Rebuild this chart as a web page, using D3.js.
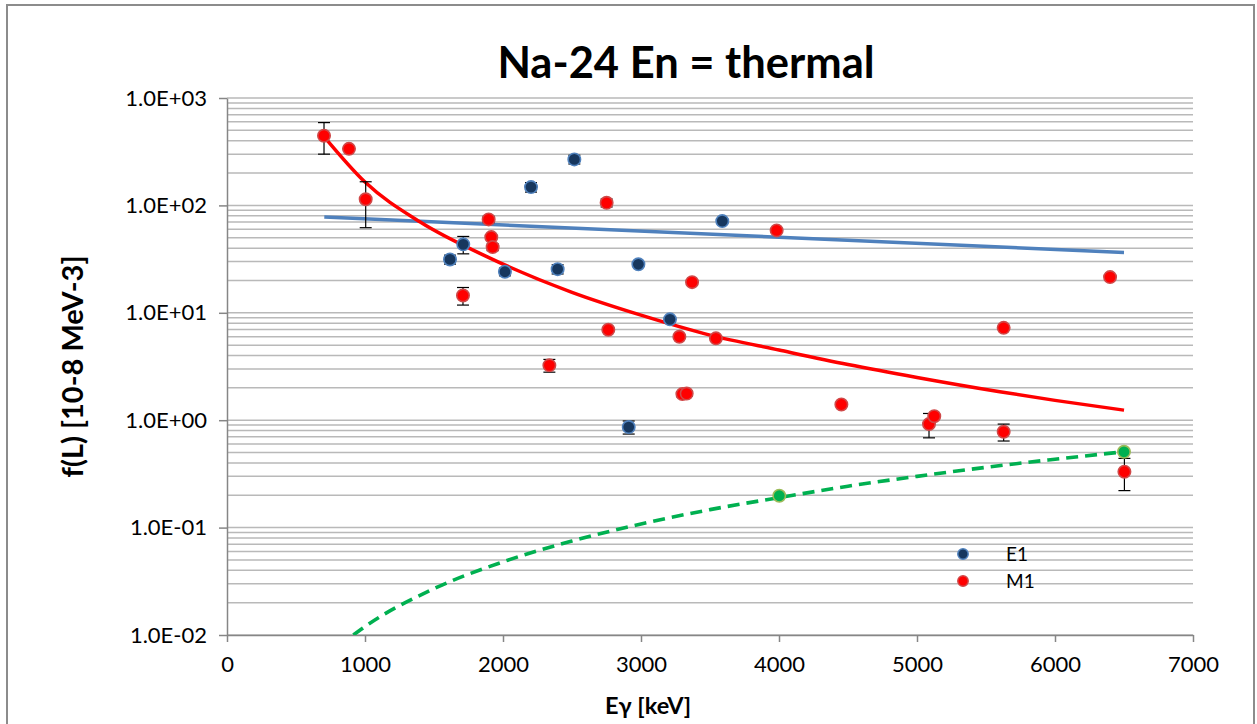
<!DOCTYPE html>
<html>
<head>
<meta charset="utf-8">
<script src="https://cdn.jsdelivr.net/npm/d3@7"></script>
<style>
	body { margin: 0; background: #fff; }
	text { font-family: Lato, "Open Sans", sans-serif; fill: #000; }
</style>
</head>
<body>
<div id="chart"></div>
<script>
// chart values
var e1X = [1616, 1712, 2014, 2203, 2396, 2517, 2911, 2981, 3210, 3589]
var e1Y = [31.4, 43.4, 24.1, 148, 25.5, 268, 0.863, 28.3, 8.69, 71.4]
var e1Err = [3, 8, 2, 15, 2.5, 25, 0.12, 1, 0.5, 3]

var m1X = [703, 884, 1005, 1710, 1896, 1915, 1925, 2336, 2751, 2763, 3278, 3300, 3331, 3370, 3543, 3983, 4452, 5087, 5125, 5628, 5628, 6399, 6503]
var m1Y = [445, 336, 114, 14.5, 74.1, 50.7, 40.9, 3.24, 105.7, 6.95, 5.98, 1.75, 1.77, 19.3, 5.78, 58.5, 1.40, 0.92, 1.09, 7.24, 0.78, 21.5, 0.331]
var m1Err = [145, 15, 52, 2.7, 5, 2, 3, 0.44, 9, 0.3, 0.2, 0.1, 0.1, 0.5, 0.2, 2, 0.05, 0.235, 0.03, 0.2, 0.14, 0.5, 0.11]

var extraX = [4002, 6500]
var extraY = [0.198, 0.508]

// trend lines
var e1TrendX = [705, 6500]
var e1TrendY = [77.8, 36.5]
var m1TrendX = [705, 1000, 1400, 1890, 2500, 3000, 3500, 4000, 4500, 5000, 5600, 6000, 6500]
var m1TrendY = [435, 165, 70, 33, 15.5, 9.5, 6.2, 4.5, 3.3, 2.5, 1.84, 1.53, 1.24]
var extraTrendX = [700, 1000, 1500, 2000, 2500, 3000, 3500, 4000, 4500, 5000, 5500, 6000, 6500]
var extraTrendY = [0.006, 0.012, 0.027, 0.048, 0.075, 0.108, 0.147, 0.19, 0.243, 0.30, 0.364, 0.433, 0.508]

var xTicks = [0, 1000, 2000, 3000, 4000, 5000, 6000, 7000]
var yTicks = [0.01, 0.1, 1, 10, 100, 1000]
var yTickLabels = ["1.0E-02", "1.0E-01", "1.0E+00", "1.0E+01", "1.0E+02", "1.0E+03"]
var legendNames = ["E1", "M1"]

var w = 1257
var h = 724

var svg = d3.select("#chart")
	.append("svg")
	.attr("width", w)
	.attr("height", h)

// outer frame
svg.append("rect")
	.attr("x", 7)
	.attr("y", 5)
	.attr("width", 1247)
	.attr("height", 730)
	.attr("fill", "none")
	.attr("stroke", "#8c8c8c")
	.attr("stroke-width", 2)

// plot area edges
var pL = 227, pR = 1193, pT = 98, pB = 635

var x = d3.scaleLinear().domain([0, 7000]).range([pL, pR])
var y = d3.scaleLog().domain([0.01, 1000]).range([pB, pT])

// gridlines, every minor step of the log axis
svg.append("g")
	.selectAll("line")
	.data(y.ticks())
	.enter()
	.append("line")
	.attr("x1", pL)
	.attr("x2", pR)
	.attr("y1", function(d) { return y(d) })
	.attr("y2", function(d) { return y(d) })
	.attr("stroke", "#b9b9b9")
	.attr("stroke-width", 1.5)

// axes
var yAxis = d3.axisLeft(y)
	.tickValues(yTicks)
	.tickFormat(function(d, i) { return yTickLabels[i] })
	.tickSize(8)
	.tickSizeOuter(0)
	.tickPadding(12)

var xAxis = d3.axisBottom(x)
	.tickValues(xTicks)
	.tickFormat(d3.format("d"))
	.tickSize(7)
	.tickSizeOuter(0)
	.tickPadding(14)

svg.append("g").attr("transform", "translate(" + pL + ",0)").call(yAxis)
svg.append("g").attr("transform", "translate(0," + pB + ")").call(xAxis)

svg.selectAll(".domain, .tick line")
	.attr("stroke", "#868686")
	.attr("stroke-width", 1.5)
svg.selectAll(".tick text")
	.attr("font-family", "Lato, sans-serif")
	.attr("font-size", 22)
	.attr("fill", "#000")

// trend lines
svg.append("clipPath").attr("id", "plot")
	.append("rect")
	.attr("x", pL)
	.attr("y", pT)
	.attr("width", pR - pL)
	.attr("height", pB - pT)

var line = d3.line()
	.x(function(d) { return x(d[0]) })
	.y(function(d) { return y(d[1]) })
	.curve(d3.curveMonotoneX)

var trendG = svg.append("g").attr("clip-path", "url(#plot)")

trendG.append("path")
	.attr("d", line(d3.zip(e1TrendX, e1TrendY)))
	.attr("fill", "none")
	.attr("stroke", "#4f81bd")
	.attr("stroke-width", 3.5)

trendG.append("path")
	.attr("d", line(d3.zip(m1TrendX, m1TrendY)))
	.attr("fill", "none")
	.attr("stroke", "#ff0000")
	.attr("stroke-width", 3.5)

trendG.append("path")
	.attr("d", line(d3.zip(extraTrendX, extraTrendY)))
	.attr("fill", "none")
	.attr("stroke", "#00b050")
	.attr("stroke-width", 3.6)
	.attr("stroke-dasharray", "12,7")

// error bars
function errorBars(xs, ys, es) {
	var g = svg.append("g").attr("stroke", "#000").attr("stroke-width", 1.2)
	var data = d3.zip(xs, ys, es)
	g.selectAll(".v").data(data).enter().append("line")
		.attr("x1", function(d) { return x(d[0]) })
		.attr("x2", function(d) { return x(d[0]) })
		.attr("y1", function(d) { return y(d[1] + d[2]) })
		.attr("y2", function(d) { return y(d[1] - d[2]) })
	g.selectAll(".t").data(data).enter().append("line")
		.attr("x1", function(d) { return x(d[0]) - 6 })
		.attr("x2", function(d) { return x(d[0]) + 6 })
		.attr("y1", function(d) { return y(d[1] + d[2]) })
		.attr("y2", function(d) { return y(d[1] + d[2]) })
	g.selectAll(".b").data(data).enter().append("line")
		.attr("x1", function(d) { return x(d[0]) - 6 })
		.attr("x2", function(d) { return x(d[0]) + 6 })
		.attr("y1", function(d) { return y(d[1] - d[2]) })
		.attr("y2", function(d) { return y(d[1] - d[2]) })
}
errorBars(e1X, e1Y, e1Err)
errorBars(m1X, m1Y, m1Err)

// markers
function dots(xs, ys, fill, edge) {
	svg.append("g")
		.selectAll("circle")
		.data(d3.zip(xs, ys))
		.enter()
		.append("circle")
		.attr("cx", function(d) { return x(d[0]) })
		.attr("cy", function(d) { return y(d[1]) })
		.attr("r", 6.2)
		.attr("fill", fill)
		.attr("stroke", edge)
		.attr("stroke-width", 1.6)
}
dots(e1X, e1Y, "#17375e", "#4f81bd")
dots(m1X, m1Y, "#ff0000", "#d04848")
dots(extraX, extraY, "#00b050", "#9bbb59")

// legend
var legendColors = [["#17375e", "#4f81bd"], ["#ff0000", "#d04848"]]
var legend = svg.append("g")
legendNames.forEach(function(name, i) {
	legend.append("circle")
		.attr("cx", 963)
		.attr("cy", 554 + i * 27)
		.attr("r", 5.2)
		.attr("fill", legendColors[i][0])
		.attr("stroke", legendColors[i][1])
		.attr("stroke-width", 1.5)
	legend.append("text")
		.attr("x", 1006)
		.attr("y", 554 + i * 27 + 7)
		.attr("font-size", 19)
		.text(name)
})

// titles
svg.append("text")
	.attr("x", 686)
	.attr("y", 78)
	.attr("text-anchor", "middle")
	.attr("font-size", 43.5)
	.attr("font-weight", "bold")
	.text("Na-24 En = thermal")

svg.append("text")
	.attr("transform", "translate(83," + ((pT + pB) / 2) + ") rotate(-90)")
	.attr("text-anchor", "middle")
	.attr("font-size", 29)
	.attr("font-weight", "bold")
	.text("f(L) [10-8 MeV-3]")

svg.append("text")
	.attr("x", 648)
	.attr("y", 714)
	.attr("text-anchor", "middle")
	.attr("font-size", 23.5)
	.attr("font-weight", "bold")
	.text("Eγ [keV]")
</script>
</body>
</html>
